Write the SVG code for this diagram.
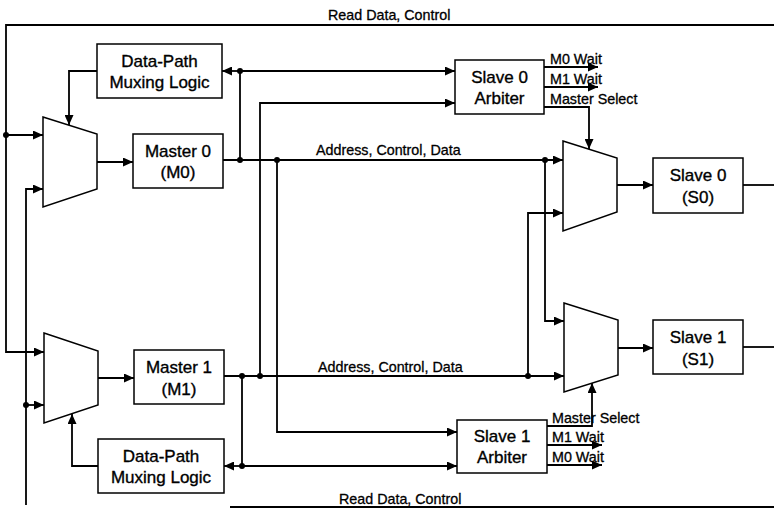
<svg xmlns="http://www.w3.org/2000/svg" width="774" height="509" viewBox="0 0 774 509">
<style>
.box{fill:#fff;stroke:#000;stroke-width:1.5}
.mux{fill:#fff;stroke:#000;stroke-width:1.5}
.w{fill:none;stroke:#000;stroke-width:1.8}
.wa{fill:none;stroke:#000;stroke-width:1.8;marker-end:url(#ah)}
.dot{fill:#000}
.t{font-family:"Liberation Sans",Arial,sans-serif;font-size:17px;fill:#000;stroke:#000;stroke-width:0.35;text-anchor:middle}
.s{font-family:"Liberation Sans",Arial,sans-serif;font-size:14.3px;fill:#000;stroke:#000;stroke-width:0.3}
</style>
<defs>
<marker id="ah" markerUnits="userSpaceOnUse" markerWidth="11" markerHeight="9" refX="10" refY="4.5" orient="auto">
<path d="M0,0 L10,4.5 L0,9 Z" fill="#000"/>
</marker>
</defs>
<rect width="774" height="509" fill="#fff"/>

<g id="connectors">
<polyline class="wa" points="774,25 6,25 6,352 44,352"/>
<line class="wa" x1="6" y1="135" x2="43" y2="135"/>
<circle class="dot" cx="6" cy="135" r="3"/>
<line class="w" x1="230" y1="507" x2="774" y2="507"/>
<polyline class="wa" points="26,505 26,189 43,189"/>
<line class="wa" x1="26" y1="405" x2="44" y2="405"/>
<circle class="dot" cx="26" cy="405" r="3"/>
<line class="wa" x1="97" y1="162" x2="133" y2="162"/>
<line class="wa" x1="98" y1="378" x2="134" y2="378"/>
<polyline class="wa" points="97,71 69,71 69,125"/>
<polyline class="wa" points="98,466 72,466 72,414"/>
<line class="wa" x1="223" y1="160" x2="563" y2="160"/>
<line class="w" x1="240" y1="160" x2="240" y2="71"/>
<line class="wa" x1="240" y1="71" x2="222" y2="71"/>
<line class="wa" x1="240" y1="71" x2="455" y2="71"/>
<circle class="dot" cx="240" cy="160" r="3"/>
<circle class="dot" cx="240" cy="71" r="3"/>
<polyline class="wa" points="277,160 277,432 457,432"/>
<circle class="dot" cx="277" cy="160" r="3"/>
<line class="wa" x1="224" y1="376" x2="564" y2="376"/>
<line class="w" x1="242" y1="376" x2="242" y2="466"/>
<line class="wa" x1="242" y1="466" x2="224" y2="466"/>
<line class="wa" x1="242" y1="466" x2="457" y2="466"/>
<circle class="dot" cx="242" cy="376" r="3"/>
<circle class="dot" cx="242" cy="466" r="3"/>
<polyline class="wa" points="260,376 260,103 455,103"/>
<circle class="dot" cx="260" cy="376" r="3"/>
<polyline class="wa" points="545,160 545,321 564,321"/>
<circle class="dot" cx="545" cy="160" r="3"/>
<polyline class="wa" points="528,376 528,213 563,213"/>
<circle class="dot" cx="528" cy="376" r="3"/>
<line class="wa" x1="617" y1="185" x2="653" y2="185"/>
<line class="wa" x1="618" y1="348" x2="653" y2="348"/>
<line class="w" x1="743" y1="185" x2="774" y2="185"/>
<line class="w" x1="743" y1="347" x2="774" y2="347"/>
<line class="wa" x1="544" y1="67" x2="598" y2="67"/>
<line class="wa" x1="544" y1="87" x2="598" y2="87"/>
<polyline class="wa" points="544,107 589,107 589,149"/>
<polyline class="wa" points="547,426 592,426 592,383"/>
<line class="wa" x1="547" y1="445" x2="602" y2="445"/>
<line class="wa" x1="547" y1="465" x2="602" y2="465"/>
<text class="s" x="328" y="20">Read Data, Control</text>
<text class="s" x="316" y="155">Address, Control, Data</text>
<text class="s" x="318" y="372">Address, Control, Data</text>
<text class="s" x="339" y="504">Read Data, Control</text>
<text class="s" x="550" y="64">M0 Wait</text>
<text class="s" x="550" y="84">M1 Wait</text>
<text class="s" x="550" y="104">Master Select</text>
<text class="s" x="552" y="423">Master Select</text>
<text class="s" x="552" y="442">M1 Wait</text>
<text class="s" x="552" y="462">M0 Wait</text>
</g>

<g id="mux-m0"><polygon class="mux" points="43,117 97,134 97,189 43,207"/></g>
<g id="mux-m1"><polygon class="mux" points="44,333 98,351 98,405 44,423"/></g>
<g id="mux-s0"><polygon class="mux" points="563,141 617,158 617,212 563,231"/></g>
<g id="mux-s1"><polygon class="mux" points="564,303 618,320 618,375 564,392"/></g>

<g id="dpml0"><rect class="box" x="97" y="44" width="125" height="54"/>
<text class="t" x="159.5" y="67">Data-Path</text><text class="t" x="159.5" y="88">Muxing Logic</text></g>
<g id="dpml1"><rect class="box" x="98" y="439" width="126" height="54"/>
<text class="t" x="161" y="462">Data-Path</text><text class="t" x="161" y="483">Muxing Logic</text></g>
<g id="master0"><rect class="box" x="133" y="134" width="90" height="54"/>
<text class="t" x="178" y="157">Master 0</text><text class="t" x="178" y="178">(M0)</text></g>
<g id="master1"><rect class="box" x="134" y="350" width="90" height="54"/>
<text class="t" x="179" y="373">Master 1</text><text class="t" x="179" y="395">(M1)</text></g>
<g id="arbiter0"><rect class="box" x="455" y="60" width="89" height="54"/>
<text class="t" x="499.5" y="83">Slave 0</text><text class="t" x="499.5" y="104">Arbiter</text></g>
<g id="arbiter1"><rect class="box" x="457" y="420" width="90" height="53"/>
<text class="t" x="502" y="442">Slave 1</text><text class="t" x="502" y="463">Arbiter</text></g>
<g id="slave0"><rect class="box" x="653" y="158" width="90" height="55"/>
<text class="t" x="698" y="181">Slave 0</text><text class="t" x="698" y="203">(S0)</text></g>
<g id="slave1"><rect class="box" x="653" y="320" width="90" height="54"/>
<text class="t" x="698" y="343">Slave 1</text><text class="t" x="698" y="365">(S1)</text></g>
</svg>
